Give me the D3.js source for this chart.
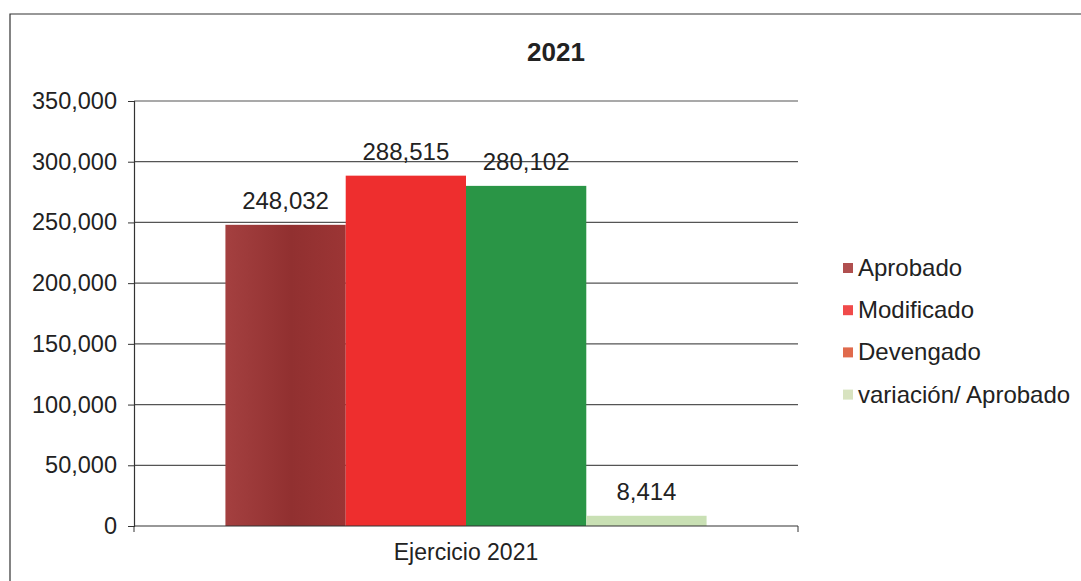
<!DOCTYPE html>
<html><head><meta charset="utf-8">
<script src="https://cdn.jsdelivr.net/npm/d3@7"></script>
<style>body{margin:0;background:#fff}svg{display:block;font-family:"Liberation Sans",Arial,sans-serif}</style>
</head><body>
<svg id="c" width="1081" height="581"></svg>
<script>
const title = "2021";
const category = "Ejercicio 2021";
const seriesNames = ["Aprobado", "Modificado", "Devengado", "variación/ Aprobado"];
const seriesValues = [248032, 288515, 280102, 8414];
const barColors = ["#9b3434", "#ee2e2e", "#2a9546", "#c9e0b4"];
const legendColors = ["#b04f4f", "#f04a4a", "#e06a4c", "#d8e3c0"];
const yTicks = [0, 50000, 100000, 150000, 200000, 250000, 300000, 350000];

(function(){
const svg = d3.select("#c");
svg.append("path").attr("d","M10,581 L10,14 L1081,14").attr("fill","none").attr("stroke","#333").attr("stroke-width",1.2);

const pL = 134, pR = 798, pT = 101, pB = 526;
const y = d3.scaleLinear().domain([0, 350000]).range([pB, pT]);
const x0 = d3.scaleBand().domain([category]).range([pL, pR]).paddingInner(0).paddingOuter(0.19);
const x1 = d3.scaleBand().domain(seriesNames).range([x0(category), x0(category) + x0.bandwidth()]).padding(0);

svg.append("g").selectAll("line").data(yTicks.filter(d=>d>0)).join("line")
  .attr("x1", pL).attr("x2", pR).attr("y1", d=>y(d)).attr("y2", d=>y(d))
  .attr("stroke","#555").attr("stroke-width",1.2);

const yAxis = d3.axisLeft(y).tickValues(yTicks).tickFormat(d3.format(",")).tickSize(6).tickPadding(11);
const ga = svg.append("g").attr("transform",`translate(${pL},0)`).call(yAxis);
ga.select(".domain").attr("stroke","#333").attr("stroke-width",1.2);
ga.selectAll(".tick line").attr("stroke","#333");
ga.selectAll("text").attr("font-size",23.5).attr("fill","#222").attr("font-family","Liberation Sans, Arial, sans-serif");

const defs = svg.append("defs");
const g0 = defs.append("linearGradient").attr("id","gA").attr("x1","0").attr("x2","1").attr("y1","0").attr("y2","0");
g0.append("stop").attr("offset","0").attr("stop-color","#a44040");
g0.append("stop").attr("offset","0.55").attr("stop-color","#913030");
g0.append("stop").attr("offset","1").attr("stop-color","#9c3535");
const fills = ["url(#gA)", barColors[1], barColors[2], barColors[3]];

svg.append("g").selectAll("rect").data(seriesValues).join("rect")
  .attr("x",(d,i)=>x1(seriesNames[i]))
  .attr("width",x1.bandwidth())
  .attr("y",d=>y(d)).attr("height",d=>pB-y(d))
  .attr("fill",(d,i)=>fills[i]);

svg.append("g").selectAll("text").data(seriesValues).join("text")
  .attr("x",(d,i)=>x1(seriesNames[i])+x1.bandwidth()/2)
  .attr("y",d=>y(d)-16)
  .attr("text-anchor","middle").attr("font-size",24).attr("fill","#222")
  .text(d=>d3.format(",")(d));

const gx = svg.append("g").attr("transform",`translate(0,${pB})`);
gx.append("line").attr("x1",pL).attr("x2",pR).attr("stroke","#333").attr("stroke-width",1.2);
gx.append("line").attr("x1",pR).attr("x2",pR).attr("y1",0).attr("y2",6).attr("stroke","#333");
gx.append("line").attr("x1",pL).attr("x2",pL).attr("y1",0).attr("y2",6).attr("stroke","#333");
gx.append("text").attr("x",x0(category)+x0.bandwidth()/2).attr("y",34)
  .attr("text-anchor","middle").attr("font-size",23).attr("fill","#222").text(category);

svg.append("text").attr("x",556).attr("y",61).attr("text-anchor","middle")
  .attr("font-size",26).attr("font-weight","bold").attr("fill","#222").text(title);

const lg = svg.append("g").selectAll("g").data(seriesNames).join("g")
  .attr("transform",(d,i)=>`translate(843,${268 + i*42.2})`);
lg.append("rect").attr("x",0).attr("y",-5).attr("width",10).attr("height",10).attr("fill",(d,i)=>legendColors[i]);
lg.append("text").attr("x",15).attr("y",8).attr("font-size",24).attr("fill","#222").text(d=>d);
})();
</script>
</body></html>
